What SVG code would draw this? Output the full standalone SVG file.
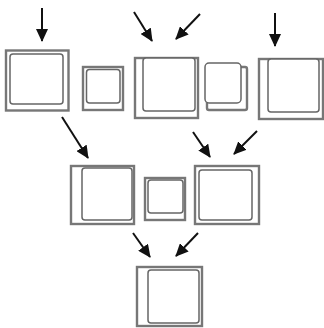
<svg xmlns="http://www.w3.org/2000/svg" width="324" height="328" viewBox="0 0 324 328">
<style>
.o{fill:#fff;stroke:#777;stroke-width:2.4}
.i{fill:#fff;stroke:#666;stroke-width:1.5}
.c{stroke:#111;stroke-width:2;fill:none;marker-end:url(#ah)}
</style>
<defs>
<marker id="ah" viewBox="0 0 13 12" refX="12" refY="6" markerWidth="6.5" markerHeight="6" orient="auto" markerUnits="strokeWidth">
<path d="M0,0 L13,6 L0,12 z" fill="#111"/>
</marker>
</defs>
<rect width="324" height="328" fill="#fff"/>
<g id="connectors">
<line class="c" x1="42" y1="8" x2="42" y2="41"/>
<line class="c" x1="134" y1="12" x2="152" y2="41"/>
<line class="c" x1="200" y1="14" x2="176" y2="39"/>
<line class="c" x1="275" y1="13" x2="275" y2="46"/>
<line class="c" x1="62" y1="117" x2="88" y2="158"/>
<line class="c" x1="193" y1="132" x2="210" y2="157"/>
<line class="c" x1="257" y1="131" x2="234" y2="154"/>
<line class="c" x1="133" y1="233" x2="150" y2="257"/>
<line class="c" x1="198" y1="233" x2="176" y2="256"/>
</g>
<g id="nodeA">
<rect class="o" x="6" y="50.5" width="62.5" height="60"/>
<rect class="i" x="10" y="54" width="53" height="50" rx="3"/>
</g>
<g id="nodeB">
<rect class="o" x="83" y="67" width="40" height="43"/>
<rect class="i" x="86.5" y="69.5" width="33.5" height="33.5" rx="3"/>
</g>
<g id="nodeC">
<rect class="o" x="135" y="58" width="63" height="60"/>
<rect class="i" x="143" y="58" width="52" height="53" rx="3"/>
</g>
<g id="nodeD">
<rect class="o" x="207" y="67" width="40" height="43" rx="2"/>
<rect class="i" x="205" y="63" width="36" height="40" rx="4"/>
</g>
<g id="nodeE">
<rect class="o" x="259" y="59" width="64" height="60"/>
<rect class="i" x="268" y="59" width="51" height="53" rx="3"/>
</g>
<g id="nodeF">
<rect class="o" x="71" y="166" width="63" height="58"/>
<rect class="i" x="82" y="168" width="50" height="52" rx="3"/>
</g>
<g id="nodeG">
<rect class="o" x="145" y="178" width="40" height="42"/>
<rect class="i" x="148" y="180" width="35" height="33" rx="3"/>
</g>
<g id="nodeH">
<rect class="o" x="195" y="166" width="64" height="58"/>
<rect class="i" x="199" y="170" width="53" height="50" rx="3"/>
</g>
<g id="nodeI">
<rect class="o" x="137" y="267" width="65" height="59"/>
<rect class="i" x="148" y="270" width="51" height="53" rx="3"/>
</g>
</svg>
